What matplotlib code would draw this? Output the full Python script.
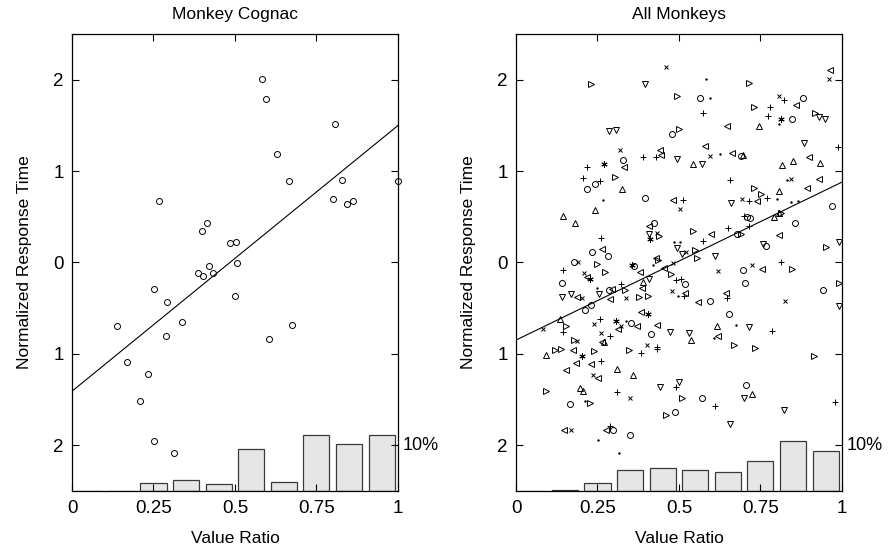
import numpy as np
import matplotlib
matplotlib.use('Agg')
import matplotlib.pyplot as plt

plt.rcParams['font.family'] = ['Liberation Sans', 'DejaVu Sans']

# axis ticks (minus signs are missing in the original labels)
x_ticks = [0, 0.25, 0.5, 0.75, 1]
x_tick_labels = ['0', '0.25', '0.5', '0.75', '1']
y_ticks = [2, 1, 0, -1, -2]
y_tick_labels = ['2', '1', '0', '1', '2']

# histogram of value ratios (percent of trials per bin)
bin_centers = [0.05, 0.15, 0.25, 0.35, 0.45, 0.55, 0.65, 0.75, 0.85, 0.95]
cognac_pct = [0, 0, 1.6, 2.3, 1.5, 9.2, 1.9, 12.3, 10.3, 12.3]
all_pct = [0, 0.2, 1.75, 4.5, 5.0, 4.6, 4.2, 6.4, 10.9, 8.8]

# regression lines (intercept, slope)
cognac_fit = (-1.41, 2.91)
all_fit = (-0.85, 1.73)

# Monkey Cognac
cognac_x = [0.267, 0.582, 0.596, 0.807, 0.628, 0.666, 0.829, 0.80, 0.843, 0.863, 0.415,
            0.40, 0.485, 0.503, 1.0, 0.419, 0.388, 0.401, 0.432, 0.506, 0.252, 0.291,
            0.50, 0.139, 0.337, 0.674, 0.288, 0.605, 0.17, 0.233, 0.208, 0.252, 0.314]
cognac_y = [0.67, 2.01, 1.79, 1.52, 1.19, 0.89, 0.90, 0.70, 0.64, 0.67, 0.43,
            0.34, 0.21, 0.22, 0.89, -0.04, -0.12, -0.15, -0.11, -0.01, -0.29, -0.43,
            -0.37, -0.70, -0.65, -0.68, -0.80, -0.84, -1.09, -1.22, -1.52, -1.96, -2.09]

# All monkeys, one list per marker
circ = [(0.480, 1.41), (0.328, 1.12), (0.243, 0.86), (0.218, 0.81), (0.396, 0.71), (0.565, 1.80),
        (0.880, 1.80), (0.846, 1.57), (0.691, 1.17), (0.424, 0.43), (0.232, 0.11), (0.283, 0.07),
        (0.178, 0.00), (0.142, -0.22), (0.362, -0.04), (0.286, -0.30), (0.212, -0.52), (0.231, -0.47),
        (0.352, -0.66), (0.414, -0.78), (0.970, 0.62), (0.708, 0.50), (0.718, 0.49), (0.855, 0.43),
        (0.679, 0.31), (0.768, 0.18), (0.696, -0.08), (0.704, -0.22), (0.517, -0.24), (0.594, -0.42),
        (0.942, -0.30), (0.655, -0.56), (0.165, -1.55), (0.487, -1.64), (0.299, -1.84), (0.349, -1.89),
        (0.571, -1.49), (0.706, -1.34)]
cross = [(0.461, 2.14), (0.319, 1.23), (0.960, 2.01), (0.808, 1.82), (0.594, 1.17), (0.844, 0.91),
         (0.693, 0.70), (0.434, 0.32), (0.190, 0.01), (0.209, -0.11), (0.204, -0.39), (0.338, -0.39),
         (0.480, -0.31), (0.084, -0.73), (0.239, -0.67), (0.323, -0.70), (0.262, -0.77), (0.188, -0.86),
         (0.403, -0.90), (0.504, 0.59), (0.522, 0.11), (0.619, -0.09), (0.725, -0.03), (0.826, -0.42),
         (0.237, -1.23), (0.349, -1.48), (0.170, -1.84), (0.483, -0.01)]
plus = [(0.389, 1.16), (0.429, 1.16), (0.219, 1.05), (0.206, 0.93), (0.258, 0.89), (0.822, 1.78),
        (0.778, 1.70), (0.575, 1.64), (0.773, 1.60), (0.988, 1.26), (0.657, 0.90), (0.770, 0.71),
        (0.512, 0.68), (0.716, 0.67), (0.260, 0.27), (0.144, -0.08), (0.490, -0.19), (0.323, -0.24),
        (0.144, -0.76), (0.257, -0.62), (0.289, -0.81), (0.434, -0.93), (0.701, 0.51), (0.650, 0.38),
        (0.573, 0.24), (0.716, 0.40), (0.814, 0.00), (0.507, -0.18), (0.514, -0.37), (0.647, -0.39),
        (0.785, -0.75), (0.260, -1.08), (0.385, -0.99), (0.432, -0.95), (0.309, -1.42), (0.490, -1.36),
        (0.288, -1.79), (0.611, -1.57), (0.979, -1.53)]
dot = [(0.266, 0.68), (0.583, 2.01), (0.596, 1.80), (0.808, 1.52), (0.627, 1.19), (0.831, 0.90),
       (0.801, 0.70), (0.844, 0.66), (0.865, 0.67), (0.419, -0.03), (0.485, 0.22), (0.503, 0.22),
       (0.25, -0.28), (0.498, -0.37), (0.339, -0.64), (0.675, -0.69), (0.607, -0.83), (0.211, -1.52),
       (0.252, -1.95), (0.316, -2.09)]
star = [(0.270, 1.08), (0.814, 1.57), (0.411, 0.26), (0.227, -0.18), (0.357, -0.03), (0.406, -0.56),
        (0.308, -0.64), (0.204, -1.03)]
tri_up = [(0.326, 0.80), (0.747, 1.50), (0.697, 1.18), (0.849, 1.11), (0.817, 1.07), (0.933, 1.09),
          (0.544, 1.08), (0.807, 0.78), (0.145, 0.51), (0.242, 0.58), (0.181, 0.43), (0.39, -0.21),
          (0.135, -0.62), (0.27, -0.87), (0.791, 0.50), (0.616, -0.70), (0.537, -0.85), (0.091, -1.01),
          (0.309, -1.17), (0.360, -1.23), (0.196, -1.38), (0.207, -1.41), (0.725, -1.44), (0.808, 0.54)]
tri_down = [(0.395, 1.95), (0.286, 1.44), (0.306, 1.45), (0.495, 1.13), (0.931, 1.59), (0.947, 1.57),
            (0.883, 1.31), (0.571, 1.08), (0.660, 0.65), (0.409, 0.31), (0.495, 0.16), (0.408, -0.18),
            (0.142, -0.38), (0.170, -0.34), (0.255, -0.34), (0.473, -0.76), (0.759, 0.20), (0.990, 0.22),
            (0.611, 0.07), (0.51, 0.09), (0.991, -0.48), (0.716, -0.71), (0.532, -0.77), (0.441, -1.36),
            (0.50, -1.31), (0.701, -1.48), (0.821, -1.62), (0.658, -1.77)]
tri_left = [(0.442, 1.23), (0.446, 1.18), (0.332, 1.05), (0.481, 0.68), (0.962, 2.11), (0.860, 1.73),
            (0.647, 1.50), (0.580, 1.28), (0.663, 1.20), (0.899, 1.16), (0.929, 0.92), (0.893, 0.82),
            (0.740, 0.67), (0.408, 0.40), (0.265, 0.15), (0.219, -0.16), (0.381, -0.10), (0.43, 0.05),
            (0.454, -0.06), (0.388, -0.28), (0.188, -0.38), (0.294, -0.29), (0.288, -0.40), (0.385, -0.54),
            (0.372, -0.70), (0.314, -0.73), (0.432, -0.68), (0.265, -0.87), (0.597, 0.31), (0.808, 0.30),
            (0.755, -0.07), (0.520, -0.33), (0.558, -0.43), (0.643, -0.33), (0.619, -0.80), (0.176, -0.96),
            (0.183, -1.10), (0.231, -1.11), (0.153, -1.18), (0.253, -1.27), (0.147, -1.83), (0.275, -1.84)]
tri_right = [(0.229, 1.96), (0.493, 1.82), (0.50, 1.46), (0.304, 0.94), (0.714, 1.97), (0.730, 1.70),
             (0.916, 1.64), (0.730, 0.82), (0.752, 0.75), (0.439, 0.29), (0.248, -0.02), (0.272, -0.10),
             (0.436, 0.03), (0.475, -0.13), (0.335, -0.30), (0.378, -0.38), (0.406, -0.37), (0.152, -0.70),
             (0.178, -0.85), (0.814, 0.54), (0.544, 0.35), (0.691, 0.31), (0.952, 0.17), (0.55, 0.14),
             (0.555, 0.05), (0.846, -0.07), (0.99, -0.23), (0.670, -0.90), (0.734, -0.94), (0.119, -0.96),
             (0.137, -0.95), (0.239, -0.97), (0.347, -0.96), (0.091, -1.41), (0.227, -1.54), (0.460, -1.67),
             (0.51, -1.49), (0.913, -1.02)]

# asterisk marker like matlab's '*'
asterisk = (6, 2, 0)
all_groups = [(circ, 'o', 4.3), (cross, 'x', 3.2), (plus, '+', 4.5), (dot, '.', 2.0),
              (star, asterisk, 4.5), (tri_up, '^', 4.4), (tri_down, 'v', 4.4),
              (tri_left, '<', 4.4), (tri_right, '>', 4.4)]

pct_scale = 0.05  # 10% reaches the -2 tick
y_floor = -2.5


def style_axes(ax, title):
    ax.set_xlim(0, 1)
    ax.set_ylim(-2.5, 2.5)
    ax.set_xticks(x_ticks)
    ax.set_xticklabels(x_tick_labels)
    ax.set_yticks(y_ticks)
    ax.set_yticklabels(y_tick_labels)
    ax.tick_params(direction='in', top=True, right=True, length=5, width=0.8,
                   labelsize=13.5)
    ax.tick_params(axis='x', pad=7)
    ax.tick_params(axis='y', pad=6)
    for s in ax.spines.values():
        s.set_linewidth(0.9)
    ax.set_title(title, fontsize=12.5, pad=11)
    ax.set_xlabel('Value Ratio', fontsize=12.5, labelpad=10)
    ax.set_ylabel('Normalized Response Time', fontsize=12.5, labelpad=15)
    ax.text(1.015, -2, '10%', transform=ax.transData, fontsize=13, va='center', ha='left',
            clip_on=False)


def draw_hist(ax, pct):
    h = np.array(pct) * pct_scale
    ax.bar(bin_centers, h, width=0.08, bottom=y_floor, color='#e6e6e6',
           edgecolor='#3a3a3a', linewidth=0.9, zorder=1)


def draw_fit(ax, fit):
    xs = np.array([0, 1])
    ax.plot(xs, fit[0] + fit[1] * xs, color='black', linewidth=0.8, zorder=3)


fig = plt.figure(figsize=(8.88, 5.53), dpi=100)
ax1 = fig.add_axes([0.0811, 0.1127, 0.367, 0.8253])
ax2 = fig.add_axes([0.5811, 0.1127, 0.367, 0.8253])

draw_hist(ax1, cognac_pct)
ax1.plot(cognac_x, cognac_y, linestyle='none', marker='o', markersize=4.3,
         markerfacecolor='none', markeredgecolor='black', markeredgewidth=0.7,
         clip_on=False, zorder=4)
draw_fit(ax1, cognac_fit)
style_axes(ax1, 'Monkey Cognac')

draw_hist(ax2, all_pct)
for pts, mk, ms in all_groups:
    xs = [p[0] for p in pts]
    ys = [p[1] for p in pts]
    ax2.plot(xs, ys, linestyle='none', marker=mk, markersize=ms,
             markerfacecolor='none' if mk != '.' else 'black',
             markeredgecolor='black', markeredgewidth=0.7, clip_on=False, zorder=4)
draw_fit(ax2, all_fit)
style_axes(ax2, 'All Monkeys')

fig.savefig('out.png', dpi=100)
